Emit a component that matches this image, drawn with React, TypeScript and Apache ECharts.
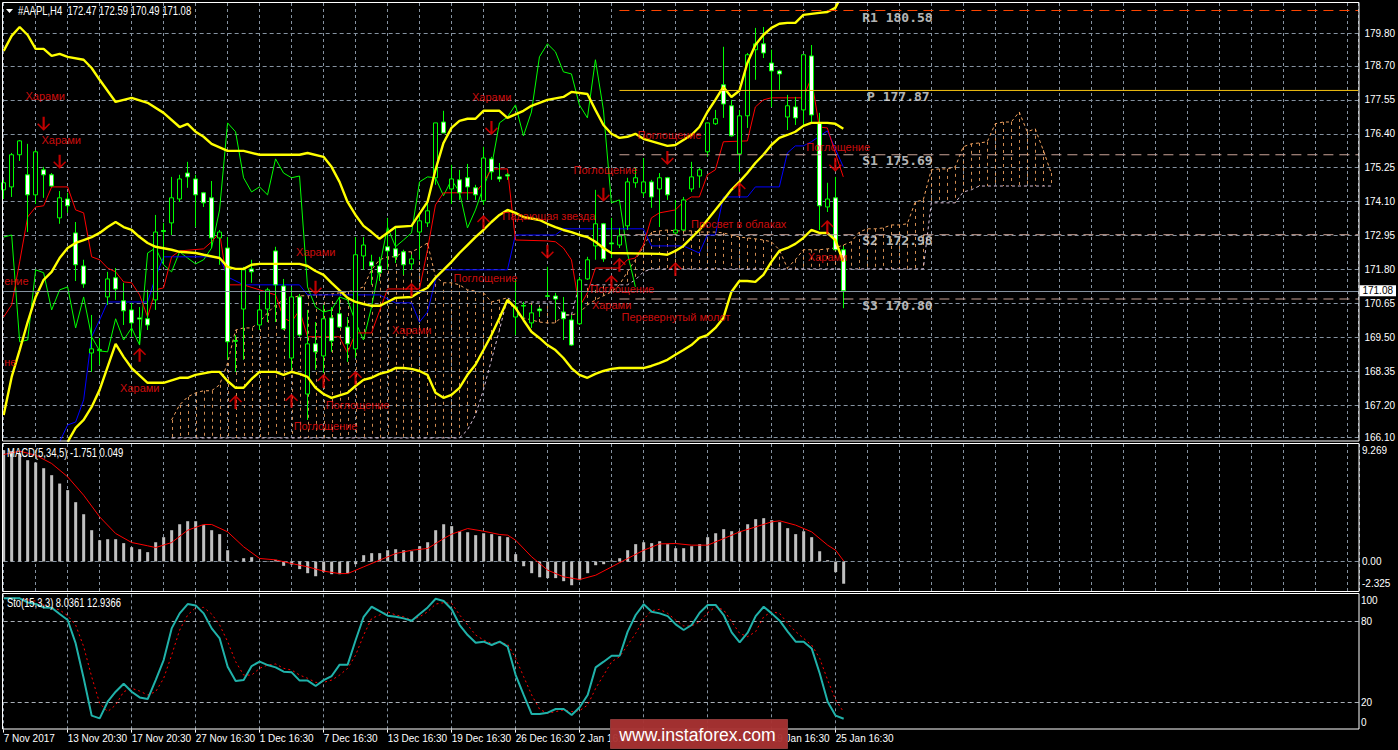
import React, { useEffect, useRef } from "react";
import * as echarts from "echarts";

// [open, close, low, high] for every bar
const candleRows = [
[174.50,174.74,174.19,174.84],[174.60,175.69,174.26,175.75],[175.69,176.16,175.48,176.19],[175.01,174.33,173.07,176.06],[174.33,175.79,174.02,175.85],
[175.18,175.01,174.23,175.28],[175.01,174.63,174.60,175.07],[173.55,174.23,173.35,174.46],[174.19,173.96,173.72,174.40],[173.04,171.96,171.41,173.41],
[171.92,171.31,171.18,172.13],[168.97,169.11,168.33,170.26],[169.05,169.09,168.57,169.48],[170.87,171.48,170.60,171.72],[171.52,171.14,170.77,171.85],
[170.74,170.40,169.92,171.35],[170.43,169.99,169.52,170.67],[170.16,170.12,169.24,170.53],[170.13,169.92,169.75,171.11],[170.77,173.07,170.43,173.65],
[173.12,173.09,172.02,173.38],[173.38,174.23,172.97,174.94],[174.19,174.87,174.09,175.01],[175.07,174.94,174.57,175.45],[174.87,174.33,173.24,175.01],
[174.40,174.06,173.92,174.43],[174.23,172.87,172.53,174.80],[172.87,173.07,171.96,173.14],[172.53,169.35,168.74,172.90],[169.39,169.37,168.33,169.58],
[170.46,171.79,168.74,171.89],[171.82,171.72,171.35,172.13],[169.92,170.43,169.75,170.94],[170.46,171.11,170.02,171.18],[172.43,171.28,170.02,172.57],
[171.24,169.79,169.75,171.48],[168.80,170.87,168.40,171.21],[170.87,169.58,169.52,170.97],[167.58,169.28,166.70,170.43],[169.28,169.01,168.40,170.02],
[168.87,170.13,168.30,170.60],[170.16,169.38,169.01,170.53],[170.30,169.85,169.82,170.87],[169.85,169.28,168.67,170.19],[169.11,172.30,168.80,172.90],
[172.26,172.63,171.79,172.90],[172.06,171.92,171.28,172.30],[171.92,171.69,171.41,172.23],[172.57,172.43,171.79,173.55],[172.50,172.23,172.02,173.21],
[172.40,171.96,171.62,172.47],[171.99,172.16,171.79,172.30],[173.07,173.45,172.13,173.72],[173.38,173.79,173.24,174.16],[174.91,176.77,174.67,176.77],
[176.80,176.43,176.43,177.18],[174.53,174.87,174.02,175.35],[174.84,174.40,174.16,175.18],[174.91,174.60,174.16,175.38],[174.57,174.33,174.16,174.67],
[174.13,175.58,173.99,175.96],[175.55,175.11,174.84,175.62],[174.94,174.87,174.77,175.41],[175.01,174.97,174.84,175.07],[170.19,170.53,169.58,171.45],
[170.58,170.56,170.09,170.70],[169.99,170.33,169.82,170.60],[170.46,170.40,170.19,170.53],[170.91,170.89,170.87,171.89],[170.90,170.80,170.09,171.01],
[170.36,170.13,169.41,170.87],[170.09,169.24,169.21,170.26],[169.96,171.45,169.92,171.55],[171.48,172.13,171.45,172.23],[172.60,173.35,172.13,174.50],
[173.35,172.16,172.06,173.38],[172.70,172.67,172.19,173.55],[172.63,172.94,172.53,173.21],[173.28,174.77,173.14,174.91],[174.74,174.91,174.57,175.25],
[174.40,174.77,174.26,175.58],[174.77,174.26,173.89,174.84],[174.53,174.91,173.24,175.07],[174.91,174.33,174.16,174.94],[173.04,173.14,172.97,174.16],
[173.14,174.16,173.11,174.26],[174.53,174.94,174.43,175.45],[174.97,175.18,174.57,175.25],[175.79,176.77,175.62,176.77],[176.74,176.91,176.70,177.21],
[178.06,177.41,176.94,179.35],[177.35,176.33,176.30,177.55],[175.72,177.01,175.11,177.21],[177.01,179.08,176.60,179.14],[179.25,179.45,178.23,179.99],
[179.45,179.14,178.97,180.02],[178.80,178.53,177.31,179.25],[178.53,178.43,177.89,178.57],[176.97,177.35,176.53,177.72],[177.31,176.94,176.70,177.65],
[177.21,179.08,176.63,179.08],[179.04,177.04,176.80,179.41],[176.77,173.96,173.14,177.11],[173.92,174.19,173.75,174.74],[174.23,172.47,172.47,174.94],
[172.47,171.08,170.49,172.59],
];

// [bar index, price] vertices
const upperBand = [[0,179.21],[1,179.72],[2,180.02],[3,179.75],[4,179.28],[5,179.28],[6,179.04],[7,179.11],[8,179.01],[10,178.91],[11,178.63],[12,178.23],[14,177.48],[16,177.62],[18,177.45],[20,177.11],[22,176.63],[23,176.74],[24,176.47],[25,176.30],[26,176.06],[28,175.82],[30,175.82],[32,175.69],[37,175.69],[38,175.75],[40,175.62],[41,175.28],[42,174.77],[43,174.09],[44,173.65],[45,173.28],[46,173.07],[47,172.84],[49,173.24],[51,173.28],[53,174.09],[54,175.18],[55,176.09],[56,176.60],[57,176.84],[58,176.91],[59,176.91],[60,177.18],[62,177.18],[63,176.94],[65,177.18],[66,177.35],[68,177.55],[70,177.65],[71,177.82],[73,177.75],[74,177.21],[75,176.70],[76,176.40],[77,176.26],[78,176.30],[79,176.40],[80,176.23],[83,175.99],[84,176.02],[86,176.36],[87,176.63],[88,177.14],[89,177.55],[90,177.99],[91,177.65],[92,177.86],[93,178.80],[94,179.41],[95,179.75],[96,179.99],[97,180.13],[98,180.16],[99,180.16],[100,180.43],[102,180.50],[103,180.53],[104,180.67],[105,181.20]];
const middleBand = [[0,166.87],[1,168.16],[2,169.07],[3,170.02],[4,170.87],[5,171.45],[6,171.72],[7,172.19],[8,172.53],[9,172.70],[10,172.80],[11,172.90],[12,173.04],[13,173.24],[14,173.41],[15,173.24],[16,173.14],[17,172.90],[18,172.70],[19,172.57],[21,172.47],[22,172.40],[24,172.36],[25,172.30],[27,172.19],[28,171.89],[29,171.82],[30,171.82],[31,171.96],[32,171.99],[37,171.99],[38,171.92],[39,171.75],[40,171.62],[41,171.35],[43,170.84],[44,170.70],[45,170.63],[46,170.57],[47,170.57],[48,170.70],[49,170.84],[51,170.87],[52,171.04],[53,171.18],[54,171.52],[55,171.79],[56,172.06],[57,172.36],[58,172.63],[59,172.90],[60,173.14],[61,173.41],[62,173.65],[63,173.82],[64,173.72],[65,173.58],[67,173.48],[68,173.35],[69,173.24],[70,173.14],[71,173.07],[72,172.97],[73,172.90],[74,172.74],[75,172.53],[76,172.36],[82,172.33],[83,172.30],[84,172.43],[85,172.60],[86,172.87],[87,173.14],[88,173.48],[89,173.82],[90,174.16],[91,174.50],[92,174.77],[93,175.07],[94,175.41],[95,175.69],[96,176.02],[97,176.26],[98,176.36],[99,176.47],[100,176.67],[101,176.77],[103,176.77],[104,176.74],[105,176.57]];
const lowerBand = [[8,165.96],[9,166.43],[10,166.70],[11,167.14],[12,167.72],[13,168.50],[14,169.28],[15,168.84],[16,168.46],[18,167.96],[20,167.96],[22,168.13],[23,168.13],[24,168.23],[26,168.33],[27,168.33],[28,168.02],[29,167.79],[30,167.79],[31,168.09],[32,168.33],[34,168.33],[35,168.23],[36,168.33],[37,168.26],[38,168.16],[39,167.79],[40,167.58],[41,167.45],[43,167.62],[44,167.85],[45,168.06],[46,168.13],[47,168.26],[48,168.33],[49,168.46],[50,168.46],[51,168.43],[52,168.36],[53,168.23],[54,167.62],[55,167.45],[56,167.55],[57,167.79],[58,168.23],[59,168.57],[60,169.07],[61,169.58],[62,170.16],[63,170.77],[64,170.50],[65,170.09],[66,169.69],[67,169.48],[68,169.24],[69,169.07],[70,168.80],[71,168.46],[72,168.23],[73,168.13],[74,168.26],[75,168.36],[76,168.43],[77,168.46],[80,168.46],[81,168.53],[82,168.63],[83,168.74],[84,168.91],[85,169.07],[86,169.24],[87,169.48],[88,169.58],[89,169.82],[90,170.16],[91,171.04],[92,171.41],[93,171.41],[94,171.38],[95,171.62],[96,172.06],[97,172.43],[98,172.53],[99,172.67],[100,172.87],[101,173.14],[102,173.04],[103,173.04],[104,172.80],[105,172.06]];
const tenkanLine = [[0,170.19],[1,170.60],[2,172.06],[3,173.58],[4,173.92],[5,173.96],[6,174.60],[8,174.60],[9,173.82],[10,173.72],[11,172.23],[12,172.13],[13,171.85],[14,171.72],[15,171.38],[16,171.35],[17,170.94],[18,170.19],[19,171.11],[20,171.18],[21,172.23],[22,172.43],[25,172.50],[26,172.74],[27,173.04],[28,171.28],[30,171.28],[32,171.11],[34,170.94],[35,170.16],[36,170.02],[37,170.43],[38,169.52],[42,169.52],[43,168.97],[44,169.65],[46,169.65],[48,171.14],[52,171.14],[53,172.47],[54,173.99],[55,174.40],[59,174.40],[60,174.74],[61,175.21],[63,175.21],[64,172.80],[68,172.77],[69,172.74],[70,172.53],[71,172.13],[72,170.53],[73,171.01],[74,171.85],[77,171.85],[78,172.13],[79,172.19],[80,172.63],[81,173.55],[82,173.72],[84,173.82],[85,174.09],[86,174.26],[87,174.26],[88,175.01],[89,175.18],[90,176.13],[93,176.16],[94,177.31],[95,177.55],[96,177.62],[100,177.62],[101,178.30],[102,176.63],[103,176.60],[104,175.75],[105,174.94]];
const kijunLine = [[7,165.96],[8,166.53],[9,166.63],[10,167.38],[11,169.52],[12,170.09],[13,170.70],[18,170.70],[19,171.55],[20,172.23],[27,172.23],[28,171.55],[30,171.28],[37,171.28],[38,170.94],[47,170.94],[49,170.67],[51,170.67],[52,170.02],[53,170.36],[54,171.45],[55,171.79],[63,171.79],[64,172.97],[69,172.97],[70,173.18],[80,173.18],[81,172.60],[85,172.60],[87,172.36],[88,172.97],[89,172.97],[90,174.26],[93,174.26],[94,174.60],[97,174.60],[98,175.75],[99,175.99],[100,175.99],[101,176.13],[103,176.50],[105,175.28]];
// lagging line, one value per bar from bar 0
const chikouLine = [172.90,172.97,169.35,169.41,171.79,171.69,170.43,171.11,171.21,169.82,170.87,169.52,169.04,169.01,170.13,169.41,169.82,169.24,172.36,172.53,171.96,171.72,172.40,172.19,171.99,172.13,172.53,173.82,176.77,176.47,174.91,174.43,174.60,174.33,175.55,175.07,174.91,174.97,171.21,170.53,170.36,170.43,170.87,170.77,170.02,169.41,170.53,171.89,173.24,172.57,172.80,173.04,174.77,174.94,174.91,174.30,174.84,174.43,173.21,173.82,174.60,175.28,176.77,176.97,177.38,176.33,177.14,179.01,179.45,179.18,178.50,178.43,177.38,176.94,178.91,177.21,174.06,174.16,172.36,171.21];

// cloud, one value per bar from bar cloudStart
const cloudStart = 21;
const spanA = [166.70,167.21,167.48,167.62,167.69,167.69,167.89,168.63,169.75,169.82,
169.82,170.02,170.33,170.60,170.77,170.84,170.91,170.91,170.94,170.94,
170.97,171.01,171.04,171.11,171.21,171.79,172.13,172.23,172.23,172.40,
172.40,172.53,172.70,171.55,171.35,171.35,171.28,171.11,171.07,171.01,
170.70,170.77,170.84,170.33,170.16,170.09,170.02,169.99,169.99,170.26,
170.26,170.33,170.60,170.77,170.91,171.04,171.28,171.72,172.13,172.57,
173.07,173.11,173.14,173.11,173.11,173.11,173.07,173.07,173.07,173.04,
172.97,172.90,172.87,172.84,172.80,172.74,172.47,171.85,172.13,172.47,
172.47,172.47,172.50,172.53,172.63,172.74,173.07,173.18,173.18,173.21,
173.31,173.31,173.35,174.09,174.16,175.18,175.21,175.21,175.28,175.96,
176.06,176.09,176.13,176.74,176.80,176.80,177.14,176.47,176.57,175.85,175.07];
const spanB = [166.09,166.09,166.09,166.09,166.09,166.09,166.09,166.09,166.09,166.09,
166.09,166.09,166.09,166.09,166.09,166.09,166.09,166.09,166.09,166.09,
166.09,166.09,166.09,166.09,166.09,166.09,166.09,166.09,166.09,166.09,
166.09,166.09,166.09,166.09,166.09,166.09,166.09,
166.36,166.87,167.72,168.74,169.75,170.84,
170.70,170.70,170.70,170.70,170.70,170.70,170.26,170.26,
171.28,171.28,171.28,171.28,171.28,171.28,171.28,171.45,171.72,
171.82,171.82,171.82,171.82,171.82,171.82,171.82,171.82,171.82,171.82,
171.82,171.82,171.82,171.82,171.82,171.82,171.82,171.82,171.82,171.82,
171.82,171.82,171.82,171.82,171.82,171.82,171.82,171.82,171.82,171.82,
171.82,171.82,171.82,171.82,171.82,
174.06,174.06,174.06,174.06,174.43,174.50,
174.63,174.63,174.63,174.63,174.63,174.63,174.63,174.63,174.63,174.63];

const macdHist = [8.78,8.70,8.52,7.99,7.81,7.36,6.81,6.15,5.63,4.68,3.73,2.47,1.68,1.76,1.76,1.45,1.13,0.97,0.74,1.52,1.92,2.47,2.94,3.18,3.18,2.87,2.47,2.16,0.89,0.08,0.26,0.34,0.03,0.03,0.13,-0.34,-0.24,-0.60,-0.92,-1.16,-0.84,-1.00,-1.00,-0.92,-0.21,0.50,0.66,0.66,0.89,0.97,0.89,0.81,1.21,1.52,2.47,2.94,2.79,2.39,2.31,2.08,2.23,2.16,2.00,1.92,0.58,-0.37,-0.92,-1.24,-1.31,-1.31,-1.55,-1.87,-1.47,-0.92,-0.29,-0.21,0.08,0.26,0.89,1.37,1.52,1.45,1.60,1.37,1.05,1.05,1.21,1.37,1.92,2.23,2.55,2.39,2.39,2.94,3.34,3.42,3.26,3.10,2.63,2.16,2.39,1.92,0.81,0.11,-0.84,-1.751];
const macdSignal = [[0,8.44],[2,8.70],[4,8.39],[6,7.73],[8,6.68],[10,5.23],[12,3.52],[14,2.21],[16,1.50],[18,1.24],[19,1.10],[21,1.50],[23,2.47],[25,2.92],[26,2.92],[28,2.34],[30,1.16],[32,0.24],[34,0.13],[36,-0.16],[38,-0.42],[40,-0.76],[42,-0.95],[43,-0.95],[45,-0.42],[47,0.11],[49,0.63],[51,0.89],[53,1.03],[55,1.81],[56,2.16],[58,2.60],[60,2.39],[62,2.13],[63,2.08],[64,1.68],[66,0.37],[68,-0.68],[70,-1.21],[72,-1.42],[74,-1.08],[76,-0.42],[78,0.24],[80,0.89],[82,1.39],[84,1.42],[86,1.29],[88,1.29],[90,1.81],[92,2.34],[94,2.73],[96,3.13],[97,3.21],[99,2.87],[101,2.34],[103,1.29],[104,0.89],[105,0.049]];

const stoMain = [97.0,97.0,97.0,94.0,92.8,90.3,90.1,85.4,81.0,63.7,37.9,10.3,8.3,20.6,28.0,33.9,28.0,23.8,22.6,36.6,51.4,74.8,85.9,92.8,91.8,85.9,74.8,67.4,46.5,35.9,36.6,47.0,50.2,47.7,46.0,42.8,42.3,36.2,36.2,32.2,36.6,39.6,48.0,48.0,66.2,83.4,90.8,87.6,84.2,83.4,82.2,80.5,85.4,90.3,96.7,95.0,88.9,77.3,69.9,64.2,65.0,62.5,65.0,61.3,40.3,25.6,11.5,11.5,12.5,15.2,15.2,10.8,16.5,25.6,46.0,50.2,54.6,54.6,72.4,84.7,92.6,87.1,85.9,83.9,77.8,73.6,77.3,86.4,92.1,92.1,84.7,71.9,64.5,71.6,83.9,90.8,85.9,80.5,72.4,65.0,65.0,60.0,41.6,20.6,10.3,8.04];
const stoSignal = [[0,97.5],[2,97.0],[4,95.0],[5,92.1],[6,90.3],[7,88.4],[8,84.2],[9,77.3],[10,61.3],[11,39.1],[12,19.4],[13,13.3],[14,18.2],[15,28.0],[16,30.5],[17,28.5],[18,25.6],[19,28.0],[20,37.9],[21,55.1],[22,73.6],[23,84.7],[24,90.1],[25,90.3],[26,85.4],[27,77.3],[28,65.0],[29,50.2],[30,40.3],[31,40.3],[32,45.3],[33,47.7],[34,48.5],[35,45.3],[36,44.0],[37,40.3],[38,37.9],[39,34.9],[40,34.9],[41,36.6],[42,40.3],[43,45.3],[44,55.1],[45,69.9],[46,82.2],[47,84.7],[48,87.1],[49,84.7],[50,83.4],[51,81.0],[52,83.4],[53,87.1],[54,92.8],[55,93.8],[56,93.3],[57,84.7],[58,77.3],[59,69.9],[60,66.2],[61,63.7],[62,64.2],[63,63.3],[64,52.7],[65,39.1],[66,25.6],[67,15.0],[68,12.0],[69,13.3],[70,14.5],[71,13.3],[72,14.0],[73,18.2],[74,30.5],[75,40.3],[76,50.2],[77,53.9],[78,62.5],[79,71.1],[80,81.5],[81,87.9],[82,88.9],[83,85.9],[84,81.0],[85,76.6],[86,76.6],[87,79.8],[88,86.4],[89,90.8],[90,88.4],[91,79.8],[92,71.1],[93,68.7],[94,72.4],[95,83.4],[96,87.1],[97,85.9],[98,78.5],[99,72.4],[100,67.4],[101,62.5],[102,52.7],[103,36.6],[104,21.9],[105,12.94]];

const lastPrice = 171.08;
const priceTicks = [179.80,178.70,177.55,176.40,175.25,174.10,172.95,171.80,170.65,169.50,168.35,167.20,166.10];
const timeTickBars = [0,8,16,24,32,40,48,56,64,72,80,88,96,104];
const timeTickNames = ["7 Nov 2017","13 Nov 20:30","17 Nov 20:30","27 Nov 16:30","1 Dec 16:30","7 Dec 16:30","13 Dec 16:30","19 Dec 16:30","26 Dec 16:30","2 Jan 16:30","8 Jan 16:30","12 Jan 16:30","19 Jan 16:30","25 Jan 16:30"];
const macdLabelValues = [8.72,0,-1.77];
const macdLabelNames = ["9.269","0.00","-2.325"];
const stoLabelValues = [95.4,80,20,5];
const stoLabelNames = ["100","80","20","0"];

const pivotNames = ["R1","P","S1","S2","S3"];
const pivotValues = [180.58,177.87,175.69,172.98,170.80];
const pivotLabelBars = [107.3,107.9,107.3,107.3,107.3];
const pivotLabelPrices = [180.33,177.65,175.48,172.77,170.57];
const pivotStartBar = 77;

const arrowDownBars = [5,7,39,61,68,75,83,104];
const arrowDownPrices = [176.74,175.45,171.18,176.60,172.40,174.33,175.58,175.35];
const arrowUpBars = [51,17,29,36,40,44,60,92,84,77,76,103];
const arrowUpPrices = [171.11,168.91,167.31,167.35,168.02,168.13,173.41,174.53,171.82,171.96,171.38,173.24];

const noteTexts = ["Харами","Харами","Харами","Харами","Харами","Поглощение","Поглощение","ение","не","Харами","Поглощение","Падающая звезда","Поглощение","Поглощение","Просвет в облаках","Поглощение","Харами","Перевернутый молот","Поглощение","Харами"];
const noteBars = [2.67,4.67,36.5,48.5,14.5,40.2,36.2,0,0,58.5,56.2,62.3,71.2,79.2,85.9,73.3,73.5,77.2,100.3,100.5];
const notePrices = [177.69,176.19,172.40,169.75,167.79,167.21,166.50,171.41,168.67,177.65,171.52,173.62,175.18,176.36,173.35,171.14,170.60,170.19,175.96,172.23];

const BAR_MAX = 169.416;
const GRID_COLOR = "#8592a0";
const SANS = '"Liberation Sans",Arial,sans-serif';
const MONO = '"DejaVu Sans Mono",monospace';
const ARROW_DOWN = "path://M5 0h2v10l4-4 1 1-6 6-6-6 1-1 4 4z";
const ARROW_UP = "path://M5 13h2V3l4 4 1-1-6-6-6 6 1 1 4-4z";

const thin = (data: number[][], color: string, z = 3, width = 1, dash?: any, axis = 0) => ({
  type: "line", xAxisIndex: axis, yAxisIndex: axis, data, showSymbol: false, symbol: "none", silent: true, z,
  lineStyle: { color, width, type: dash || "solid" }, itemStyle: { color },
});

const gridMarks = (values: number[], axis: number, color: string) => ({
  type: "line", xAxisIndex: axis, yAxisIndex: axis, data: [] as number[][], silent: true, z: 1, symbol: "none",
  markLine: {
    silent: true, symbol: "none", animation: false, z: 1, label: { show: false },
    lineStyle: { color, width: 1, type: [4, 3] },
    data: values.map((v) => ({ yAxis: v })),
  },
});

const xAxisBase = (gridIndex: number, labels: boolean) => ({
  type: "value", gridIndex, min: 0, max: BAR_MAX, interval: 4,
  axisLine: { show: false },
  axisTick: labels ? { show: true, length: 3, customValues: timeTickBars, lineStyle: { color: "#fff" } } : { show: false },
  axisLabel: labels ? {
    show: true, color: "#fff", fontFamily: SANS, fontSize: 10, margin: 4, align: "left", customValues: timeTickBars,
    formatter: (v: number) => timeTickNames[timeTickBars.indexOf(v)] ?? "",
  } : { show: false },
  splitLine: { show: true, lineStyle: { color: GRID_COLOR, width: 1, type: [3, 3] } },
});

const yAxisBase = (gridIndex: number, min: number, max: number, values: number[], margin: number, fmt: (v: number) => string, ticks: number[]) => ({
  type: "value", gridIndex, min, max, position: "right", scale: true,
  axisLine: { show: false },
  axisTick: { show: true, length: 3, customValues: ticks, lineStyle: { color: "#fff" } },
  axisLabel: { show: true, color: "#fff", fontFamily: SANS, fontSize: 10, margin, customValues: values, formatter: fmt },
  splitLine: { show: false },
});

const App = () => {
  const ref = useRef<HTMLDivElement>(null);
  useEffect(() => {
    document.documentElement.style.margin = "0";
    document.documentElement.style.overflow = "hidden";
    document.body.style.margin = "0";
    document.body.style.background = "#000";
    const chart = echarts.init(ref.current!, undefined, { renderer: "svg" });
    const cloudRows = spanA.map((a, k) => [cloudStart + k, a, spanB[k]]);
    const pivotColors = ["#ff4500", "#f5c211", "#c9a296", "#c9a296", "#c9a296"];
    const frame = (y: number, h: number) => ({
      type: "rect", silent: true, z: 50,
      shape: { x: 2.5, y, width: 1356.5, height: h },
      style: { fill: "none", stroke: "#fff", lineWidth: 1 },
    });
    chart.setOption({
      animation: false,
      backgroundColor: "#000",
      tooltip: { show: false },
      legend: { show: false },
      grid: [
        { left: 3.67, top: 3, width: 1355.33, height: 438 },
        { left: 3.67, top: 444, width: 1355.33, height: 147 },
        { left: 3.67, top: 594.3, width: 1355.33, height: 135.3 },
      ],
      xAxis: [xAxisBase(0, false), xAxisBase(1, false), xAxisBase(2, true)],
      yAxis: [
        yAxisBase(0, 165.987, 180.834, priceTicks, 6, (v) => v.toFixed(2), priceTicks),
        yAxisBase(1, -2.325, 9.269, macdLabelValues, 3, (v) => macdLabelNames[macdLabelValues.indexOf(v)] ?? "", [0]),
        yAxisBase(2, 0, 100, stoLabelValues, 2, (v) => stoLabelNames[stoLabelValues.indexOf(v)] ?? "", [80, 20]),
      ],
      series: [
        gridMarks(priceTicks, 0, GRID_COLOR),
        gridMarks([0], 1, GRID_COLOR),
        gridMarks([80, 20], 2, "#a9b0b8"),
        {
          type: "custom", xAxisIndex: 0, yAxisIndex: 0, silent: true, z: 2, clip: true, data: cloudRows,
          encode: { x: 0, y: [1, 2] },
          renderItem: (_: any, api: any) => {
            const a = api.coord([api.value(0), api.value(1)]);
            const b = api.coord([api.value(0), api.value(2)]);
            const x = Math.round(a[0]) + 0.5;
            return {
              type: "line", silent: true,
              shape: { x1: x, y1: a[1], x2: x, y2: b[1] },
              style: { stroke: "#f4a460", lineWidth: 1, lineDash: [3, 4], fill: null, opacity: 0.85 },
            };
          },
        },
        thin(spanA.map((a, k) => [cloudStart + k, a]), "#f4a460", 2, 1, [3, 3]),
        thin(spanB.map((b, k) => [cloudStart + k, b]), "#d8bfd8", 2, 1, [3, 3]),
        thin(chikouLine.map((v, i) => [i, v]), "#00ff00", 3),
        thin(kijunLine, "#0000ff", 3),
        thin(tenkanLine, "#ff0000", 3),
        {
          type: "candlestick", xAxisIndex: 0, yAxisIndex: 0, silent: true, z: 4, barWidth: 5, clip: true,
          data: candleRows.map((r, i) => [i, r[0], r[1], r[2], r[3]]),
          itemStyle: { color: "#000", color0: "#fff", borderColor: "#00ff00", borderColor0: "#00ff00", borderWidth: 1 },
        },
        thin(upperBand, "#ffff00", 5, 2.4),
        thin(middleBand, "#ffff00", 5, 2.4),
        thin(lowerBand, "#ffff00", 5, 2.4),
        ...pivotValues.map((v, k) => thin([[pivotStartBar, v], [BAR_MAX, v]], pivotColors[k], 6, 1, k === 1 ? "solid" : [10, 6])),
        {
          type: "line", xAxisIndex: 0, yAxisIndex: 0, data: [] as number[][], silent: true, z: 6, symbol: "none",
          markLine: {
            silent: true, symbol: "none", animation: false, z: 6,
            lineStyle: { color: "#8592a0", width: 1, type: "solid" },
            label: {
              show: true, position: "end", distance: 1, color: "#000", backgroundColor: "#fff",
              fontFamily: SANS, fontSize: 10, padding: [1, 3, 0, 3], formatter: () => lastPrice.toFixed(2),
            },
            data: [{ yAxis: lastPrice }],
          },
        },
        {
          type: "scatter", xAxisIndex: 0, yAxisIndex: 0, silent: true, z: 8, symbol: ARROW_DOWN, symbolSize: [13, 14],
          itemStyle: { color: "#f00000" },
          data: arrowDownBars.map((b, k) => [b, arrowDownPrices[k]]),
        },
        {
          type: "scatter", xAxisIndex: 0, yAxisIndex: 0, silent: true, z: 8, symbol: ARROW_UP, symbolSize: [13, 14],
          itemStyle: { color: "#f00000" },
          data: arrowUpBars.map((b, k) => [b, arrowUpPrices[k]]),
        },
        {
          type: "scatter", xAxisIndex: 0, yAxisIndex: 0, silent: true, z: 9, symbolSize: 1,
          itemStyle: { color: "rgba(0,0,0,0)" },
          label: { show: true, position: "right", distance: 0, color: "#ff1010", fontFamily: SANS, fontSize: 11, formatter: "{b}" },
          data: noteTexts.map((t, k) => ({ name: t, value: [noteBars[k], notePrices[k]] })),
        },
        {
          type: "scatter", xAxisIndex: 0, yAxisIndex: 0, silent: true, z: 9, symbolSize: 1,
          itemStyle: { color: "rgba(0,0,0,0)" },
          label: { show: true, position: "right", distance: 0, color: "#e6e6e6", fontFamily: MONO, fontWeight: "bold", fontSize: 13, formatter: "{b}" },
          data: pivotNames.map((n, k) => ({ name: `${n} ${pivotValues[k].toFixed(2)}`, value: [pivotLabelBars[k], pivotLabelPrices[k]] })),
        },
        {
          type: "bar", xAxisIndex: 1, yAxisIndex: 1, silent: true, z: 3, barWidth: 3,
          itemStyle: { color: "#c0c0c0" },
          data: macdHist.map((v, i) => [i, v]),
        },
        thin(macdSignal, "#ff0000", 4, 1, undefined, 1),
        thin(stoSignal, "#ff0000", 3, 1, [2, 3], 2),
        thin(stoMain.map((v, i) => [i, v]), "#20b2aa", 4, 2, undefined, 2),
      ],
      graphic: [
        frame(2.5, 438.5),
        frame(443.5, 148),
        frame(593.5, 135.5),
        { type: "polygon", silent: true, z: 60, shape: { points: [[6, 9], [13, 9], [9.5, 13]] }, style: { fill: "#fff" } },
        { type: "text", silent: true, z: 60, x: 18, y: 10.5, scaleX: 0.79, style: { text: "#AAPL,H4  172.47 172.59 170.49 171.08", fill: "#fff", font: `12px ${SANS}`, verticalAlign: "middle" } },
        { type: "text", silent: true, z: 60, x: 7, y: 452.5, scaleX: 0.79, style: { text: "MACD(5,34,5) -1.751 0.049", fill: "#fff", font: `12px ${SANS}`, verticalAlign: "middle" } },
        { type: "text", silent: true, z: 60, x: 7, y: 602.5, scaleX: 0.78, style: { text: "Sto(15,3,3) 8.0361 12.9366", fill: "#fff", font: `12px ${SANS}`, verticalAlign: "middle" } },
        { type: "rect", silent: true, z: 70, shape: { x: 610.5, y: 719.5, width: 177, height: 29 }, style: { fill: "#a83232", opacity: 0.96, stroke: "#8f3a3a", lineWidth: 1 } },
        { type: "text", silent: true, z: 71, x: 697.5, y: 735, style: { text: "www.instaforex.com", fill: "#fff", font: `17.6px ${SANS}`, align: "center", verticalAlign: "middle" } },
      ],
    });
    return () => chart.dispose();
  }, []);
  return <div ref={ref} style={{ position: "absolute", left: 0, top: 0, width: 1398, height: 750 }} />;
};

export default App;
